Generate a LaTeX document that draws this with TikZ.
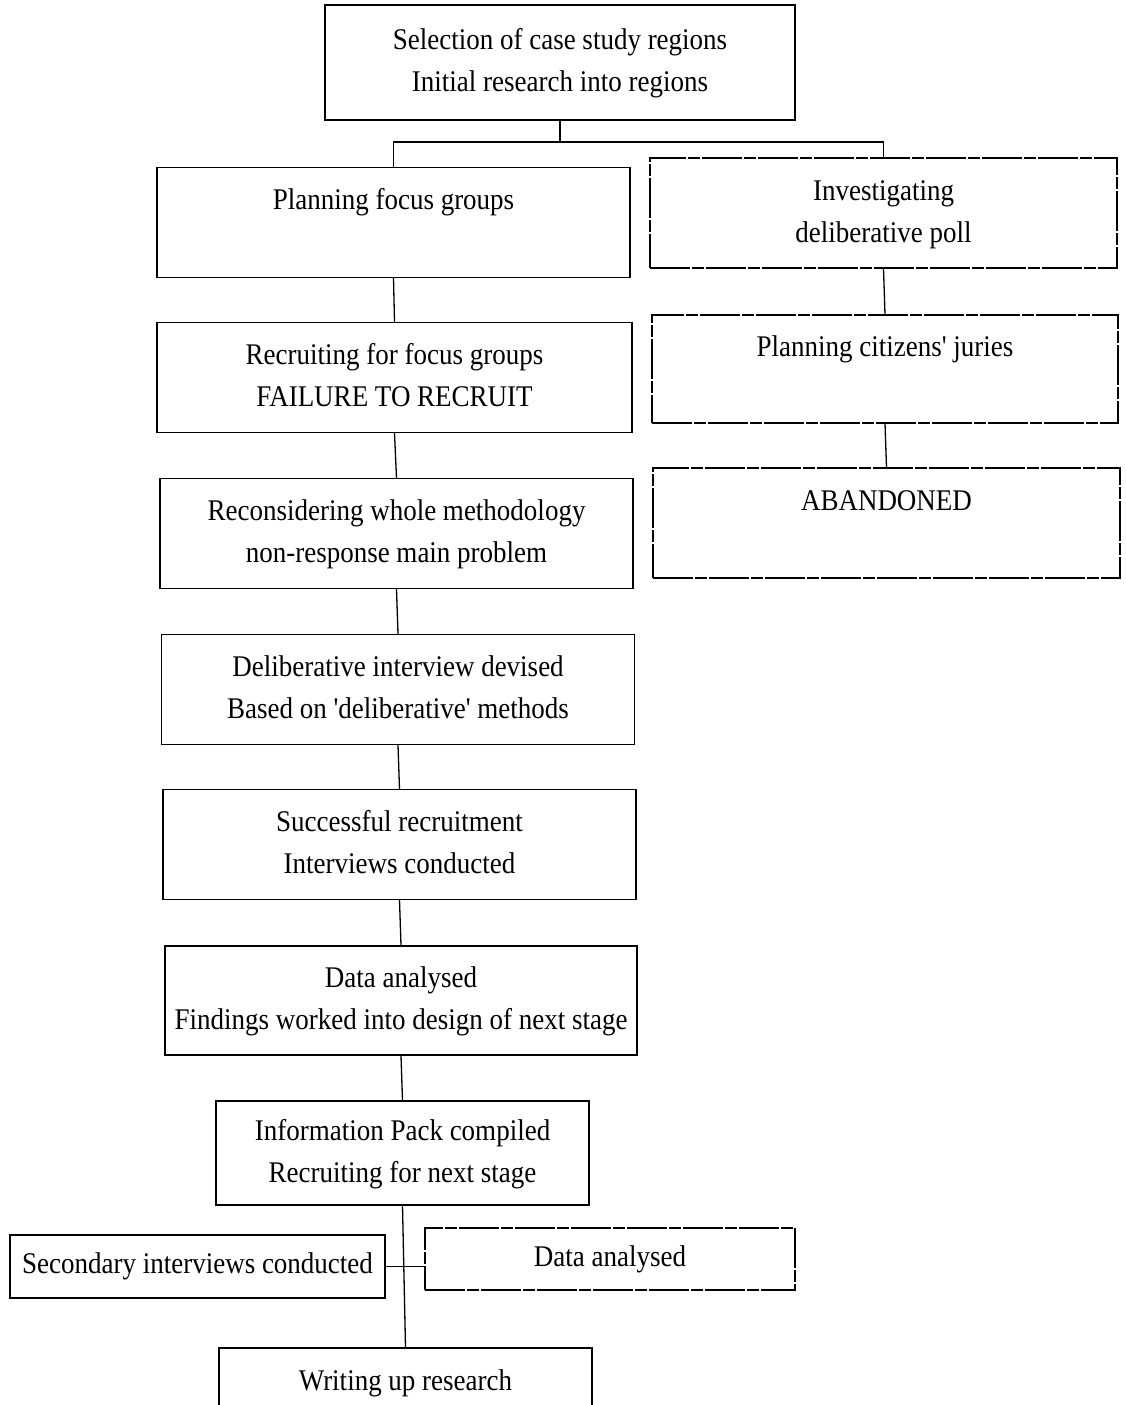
\documentclass[tikz,border=0pt]{standalone}
\usepackage{fontspec}
\setmainfont{Liberation Serif}[FakeStretch=0.9, Ligatures=TeXOff]
\begin{document}
\begin{tikzpicture}[x=1pt,y=-1pt,
  box/.style={draw=black, line width=1.3pt, inner sep=0pt, align=center,
    font=\fontsize{30}{42}\selectfont},
  dbox/.style={box, line width=1.1pt, dash pattern=on 40pt off 2pt on 12pt off 2pt},
  wide/.style={minimum width=473pt, minimum height=110pt},
  link/.style={draw=black, line width=1.3pt}]
\useasboundingbox (0,0) rectangle (1125,1405);
\clip (0,0) rectangle (1125,1405);
\fill[white] (0,0) rectangle (1125,1405);

\node[box, minimum width=470pt, minimum height=115pt] (top) at (560,62.5)
  {\strut Selection of case study regions\\\strut Initial research into regions};

\node[box, wide] (plan) at (393.5,222.5) {\strut Planning focus groups\\\strut};
\node[box, wide, minimum width=475pt] (recr) at (394.5,377.5) {\strut Recruiting for focus groups\\\strut FAILURE TO RECRUIT};
\node[box, wide] (recon) at (396.5,533.5) {\strut Reconsidering whole methodology\\\strut non-response main problem};
\node[box, wide] (delib) at (398,689.5) {\strut Deliberative interview devised\\\strut Based on 'deliberative' methods};
\node[box, wide] (succ) at (399.5,844.5) {\strut Successful recruitment\\\strut Interviews conducted};
\node[box, wide, minimum width=472pt, minimum height=109pt] (data1) at (401,1000.5) {\strut Data analysed\\\strut Findings worked into design of next stage};
\node[box, minimum width=373pt, minimum height=104pt] (info) at (402.5,1153) {\strut Information Pack compiled\\\strut Recruiting for next stage};

\node[dbox, minimum width=467pt, minimum height=110pt] (inv) at (883.5,213) {\strut Investigating\\\strut deliberative poll};
\node[dbox, minimum width=466pt, minimum height=108pt] (cit) at (885,369) {\strut Planning citizens' juries\\\strut};
\node[dbox, minimum width=467pt, minimum height=110pt] (aband) at (886.5,523) {\strut ABANDONED\\\strut};

\node[box, minimum width=375pt, minimum height=63pt] (sec) at (197.5,1266.5) {Secondary interviews conducted};
\node[dbox, minimum width=370pt, minimum height=62pt] (dat2) at (610,1259) {Data analysed};
\node[box, minimum width=373pt, minimum height=110pt] (write) at (405.5,1403) {\strut Writing up research\\\strut};

\coordinate (j1) at (560,142);
\draw[link] (top.south) -- (j1);
\draw[link] (plan.north) -- (plan.north |- j1) -- (inv.north |- j1) -- (inv.north);
\draw[link] (plan.south) -- (recr.north);
\draw[link] (recr.south) -- (recon.north);
\draw[link] (recon.south) -- (delib.north);
\draw[link] (delib.south) -- (succ.north);
\draw[link] (succ.south) -- (data1.north);
\draw[link] (data1.south) -- (info.north);
\draw[link] (info.south) -- (write.north);
\draw[link] (sec.east) -- (sec.east -| dat2.west);
\draw[link] (inv.south) -- (cit.north);
\draw[link] (cit.south) -- (aband.north);
\end{tikzpicture}
\end{document}
